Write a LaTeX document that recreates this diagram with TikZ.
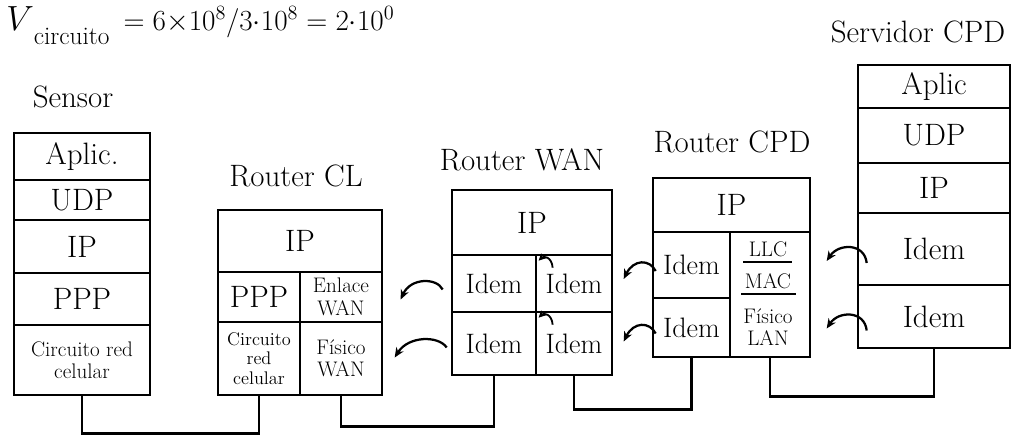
\documentclass[tikz,border=0pt]{standalone}
\usepackage{fontspec}
\usetikzlibrary{calc,arrows.meta}
\newcommand\mkcell[7][]{%
  \node[cell,#1,minimum width={(#5-#3)*0.025cm},minimum height={(#6-#4)*0.025cm}] (#2) at ({(#3+#5)/2},{(#4+#6)/2}) {#7};}
\begin{document}
\begin{tikzpicture}[x=0.025cm,y=-0.025cm,
  cell/.style={draw,line width=1.9pt,rectangle,inner sep=0pt,align=center,font=\fontsize{22}{24}\selectfont},
  small/.style={font=\fontsize{15}{16}\selectfont},
  smaller/.style={font=\fontsize{13}{14}\selectfont},
  idemf/.style={font=\fontsize{20}{22}\selectfont},
  lbl/.style={font=\fontsize{22}{24}\selectfont},
  txt/.style={font=\fontsize{15}{16}\selectfont,inner sep=0pt},
  link/.style={line width=1.9pt},
  idem/.style={line width=1.6pt,-{Stealth[length=7pt,width=6pt]}},
  idems/.style={line width=1.3pt,-{Stealth[length=5pt,width=5pt]}}]
\useasboundingbox (0,0) rectangle (1030,441);

% top equation
\node[anchor=base west,inner sep=0pt,font=\fontsize{26}{26}\selectfont] (eq) at (6,30)
  {$V$\raisebox{-10pt}{\fontsize{18}{18}\selectfont circuito}\hspace{10pt}\fontsize{22}{22}\selectfont$= 6{\times}10^{8}/3{\cdot}10^{8} = 2{\cdot}10^{0}$};

% Sensor
\node[lbl] (sL) at (73,97) {Sensor};
\mkcell{sA}{14}{133}{150}{180}{Aplic.}
\mkcell{sU}{14}{180}{150}{220}{UDP}
\mkcell{sI}{14}{220}{150}{273}{IP}
\mkcell{sP}{14}{273}{150}{325}{PPP}
\mkcell[small]{sC}{14}{325}{150}{395}{Circuito red\\celular}

% Router CL
\node[lbl] (cL) at (296,176) {Router CL};
\mkcell{cI}{218}{210}{382}{272}{IP}
\mkcell{cP}{218}{272}{300}{322}{PPP}
\mkcell[small]{cE}{300}{272}{382}{322}{Enlace\\WAN}
\mkcell[smaller]{cC}{218}{322}{300}{395}{Circuito\\red\\celular}
\mkcell[small]{cF}{300}{322}{382}{395}{Físico\\WAN}

% Router WAN
\node[lbl] (wL) at (522,160) {Router WAN};
\mkcell{wI}{452}{190}{612}{255}{IP}
\mkcell[idemf]{wL1}{452}{255}{536}{312}{Idem}
\mkcell[idemf]{wR1}{536}{255}{612}{312}{\raisebox{-6pt}{Idem}}
\mkcell[idemf]{wL2}{452}{312}{536}{375}{Idem}
\mkcell[idemf]{wR2}{536}{312}{612}{375}{\raisebox{-6pt}{Idem}}

% Router CPD
\node[lbl] (pL) at (732,142) {Router CPD};
\mkcell{pI}{653}{178}{810}{232}{IP}
\mkcell[idemf]{pL1}{653}{232}{730}{298}{Idem}
\mkcell[idemf]{pL2}{653}{298}{730}{357}{Idem}
\mkcell{pR}{730}{232}{810}{357}{}
\node[txt] (pLLC) at (768,249) {LLC};
\node[txt] (pMAC) at (768,281) {MAC};
\node[txt,align=center] (pFL) at (768,327) {Físico\\LAN};
\draw[line width=1.6pt] (743,262) -- (792,262);
\draw[line width=1.6pt] (741,294) -- (796,294);

% Servidor CPD
\node[lbl] (vL) at (918,32) {Servidor CPD};
\mkcell{vA}{858}{65}{1010}{108}{Aplic}
\mkcell{vU}{858}{108}{1010}{163}{UDP}
\mkcell{vI}{858}{163}{1010}{213}{IP}
\mkcell{vD1}{858}{213}{1010}{285}{Idem}
\mkcell{vD2}{858}{285}{1010}{348}{Idem}

% physical links
\draw[link] (sC.south) -- ++(0,37) -| (cC.south);
\draw[link] (cF.south) -- ++(0,30) -| (wL2.south);
\draw[link] (wR2.south) -- ++(0,33) -| (pL2.south);
\draw[link] (pR.south) -- ++(0,38) -| (vD2.south);

% "Idem" arrows
\draw[idem] ($(wL1.west)+(-8,6)$) .. controls ($(wL1.west)+(-14,-6)$) and ($(wL1.west)+(-40,-6)$) .. ($(wL1.west)+(-50,16)$);
\draw[idem] ($(wL2.west)+(-4,4)$) .. controls ($(wL2.west)+(-12,-8)$) and ($(wL2.west)+(-42,-8)$) .. ($(wL2.west)+(-56,14)$);
\draw[idem] ($(pL1.west)+(4,6)$) .. controls ($(pL1.west)+(-2,-6)$) and ($(pL1.west)+(-18,-6)$) .. ($(pL1.west)+(-28,14)$);
\draw[idem] ($(pL2.west)+(4,6)$) .. controls ($(pL2.west)+(-2,-6)$) and ($(pL2.west)+(-18,-6)$) .. ($(pL2.west)+(-28,14)$);
\draw[idem] ($(vD1.west)+(10,14)$) .. controls ($(vD1.west)+(8,-6)$) and ($(vD1.west)+(-18,-6)$) .. ($(vD1.west)+(-30,12)$);
\draw[idem] ($(vD2.west)+(10,14)$) .. controls ($(vD2.west)+(8,-6)$) and ($(vD2.west)+(-18,-6)$) .. ($(vD2.west)+(-30,12)$);
\draw[idems] ($(wR1.north west)+(18,14)$) .. controls ($(wR1.north west)+(17,3)$) and ($(wR1.north west)+(9,2)$) .. ($(wR1.north west)+(4,7)$);
\draw[idems] ($(wR2.north west)+(18,14)$) .. controls ($(wR2.north west)+(17,3)$) and ($(wR2.north west)+(9,2)$) .. ($(wR2.north west)+(4,7)$);
\end{tikzpicture}
\end{document}
